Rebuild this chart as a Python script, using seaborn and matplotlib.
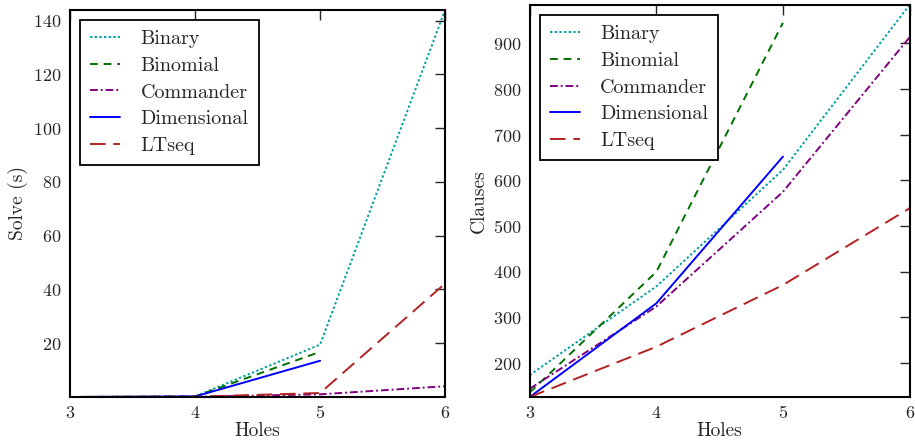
import matplotlib
matplotlib.use("Agg")
import matplotlib.pyplot as plt
import seaborn as sns
import numpy as np

holes_full = [3, 4, 5, 6]
holes_short = [3, 4, 5]

solve_binary = [0.01, 0.2, 19.5, 144.0]
solve_binomial = [0.01, 0.2, 16.8]
solve_commander = [0.01, 0.1, 1.0, 4.0]
solve_dimensional = [0.01, 0.2, 13.5]
solve_ltseq = [0.01, 0.1, 1.5, 42.2]

clauses_binary = [174, 368, 623, 984]
clauses_binomial = [136, 400, 945]
clauses_commander = [144, 324, 575, 913]
clauses_dimensional = [126, 331, 652]
clauses_ltseq = [126, 236, 371, 539]

series_names = ["Binary", "Binomial", "Commander", "Dimensional", "LTseq"]
x_ticks = [3, 4, 5, 6]

sns.set_style("white")
plt.rcParams.update({
    "font.family": ["cmr10", "DejaVu Serif"],
    "mathtext.fontset": "cm",
    "axes.unicode_minus": False,
    "axes.formatter.use_mathtext": True,
    "xtick.direction": "in",
    "ytick.direction": "in",
    "xtick.top": True,
    "ytick.right": True,
    "axes.edgecolor": "black",
    "axes.linewidth": 1.5,
})

styles = {
    "Binary": dict(color="#00a0a0", linestyle=(0, (1.2, 1.2))),
    "Binomial": dict(color="#007000", linestyle=(0, (4, 3))),
    "Commander": dict(color="purple", linestyle=(0, (4, 1.5, 1, 1.5))),
    "Dimensional": dict(color="blue", linestyle="-"),
    "LTseq": dict(color="#b22222", linestyle=(0, (8, 4))),
}

fig = plt.figure(figsize=(9.15, 4.41), dpi=100)
ax1 = fig.add_axes([0.0765, 0.0998, 0.410, 0.878])
ax2 = fig.add_axes([0.579, 0.0998, 0.415, 0.889])

left_data = {
    "Binary": (holes_full, solve_binary),
    "Binomial": (holes_short, solve_binomial),
    "Commander": (holes_full, solve_commander),
    "Dimensional": (holes_short, solve_dimensional),
    "LTseq": (holes_full, solve_ltseq),
}
right_data = {
    "Binary": (holes_full, clauses_binary),
    "Binomial": (holes_short, clauses_binomial),
    "Commander": (holes_full, clauses_commander),
    "Dimensional": (holes_short, clauses_dimensional),
    "LTseq": (holes_full, clauses_ltseq),
}

for ax, data, ylabel in [(ax1, left_data, "Solve (s)"), (ax2, right_data, "Clauses")]:
    allv = []
    for name in series_names:
        xs, ys = data[name]
        allv += list(ys)
        sns.lineplot(x=xs, y=ys, ax=ax, label=name, linewidth=1.4, **styles[name])
    ax.set_xlim(3, 6)
    ax.set_ylim(min(allv), max(allv))
    ax.set_xticks(x_ticks)
    ax.set_xticklabels([str(t) for t in x_ticks])
    ax.set_xlabel("Holes", fontsize=14, labelpad=1)
    ax.set_ylabel(ylabel, fontsize=14, labelpad=4)
    ax.tick_params(axis="both", which="major", labelsize=13, length=7, width=1,
                   pad=6, direction="in", top=True, right=True)
    for sp in ax.spines.values():
        sp.set_visible(True)
        sp.set_color("black")
        sp.set_linewidth(1.5)
    leg = ax.legend(loc="upper left", fontsize=14.5, frameon=True, fancybox=False,
                    edgecolor="black", framealpha=1, handlelength=1.5,
                    handletextpad=1.0, labelspacing=0.43, borderpad=0.5,
                    borderaxespad=0.5)
    leg.get_frame().set_linewidth(1.3)

ax1.set_yticks([20, 40, 60, 80, 100, 120, 140])
ax2.set_yticks([200, 300, 400, 500, 600, 700, 800, 900])

fig.savefig("out.png", dpi=100)
